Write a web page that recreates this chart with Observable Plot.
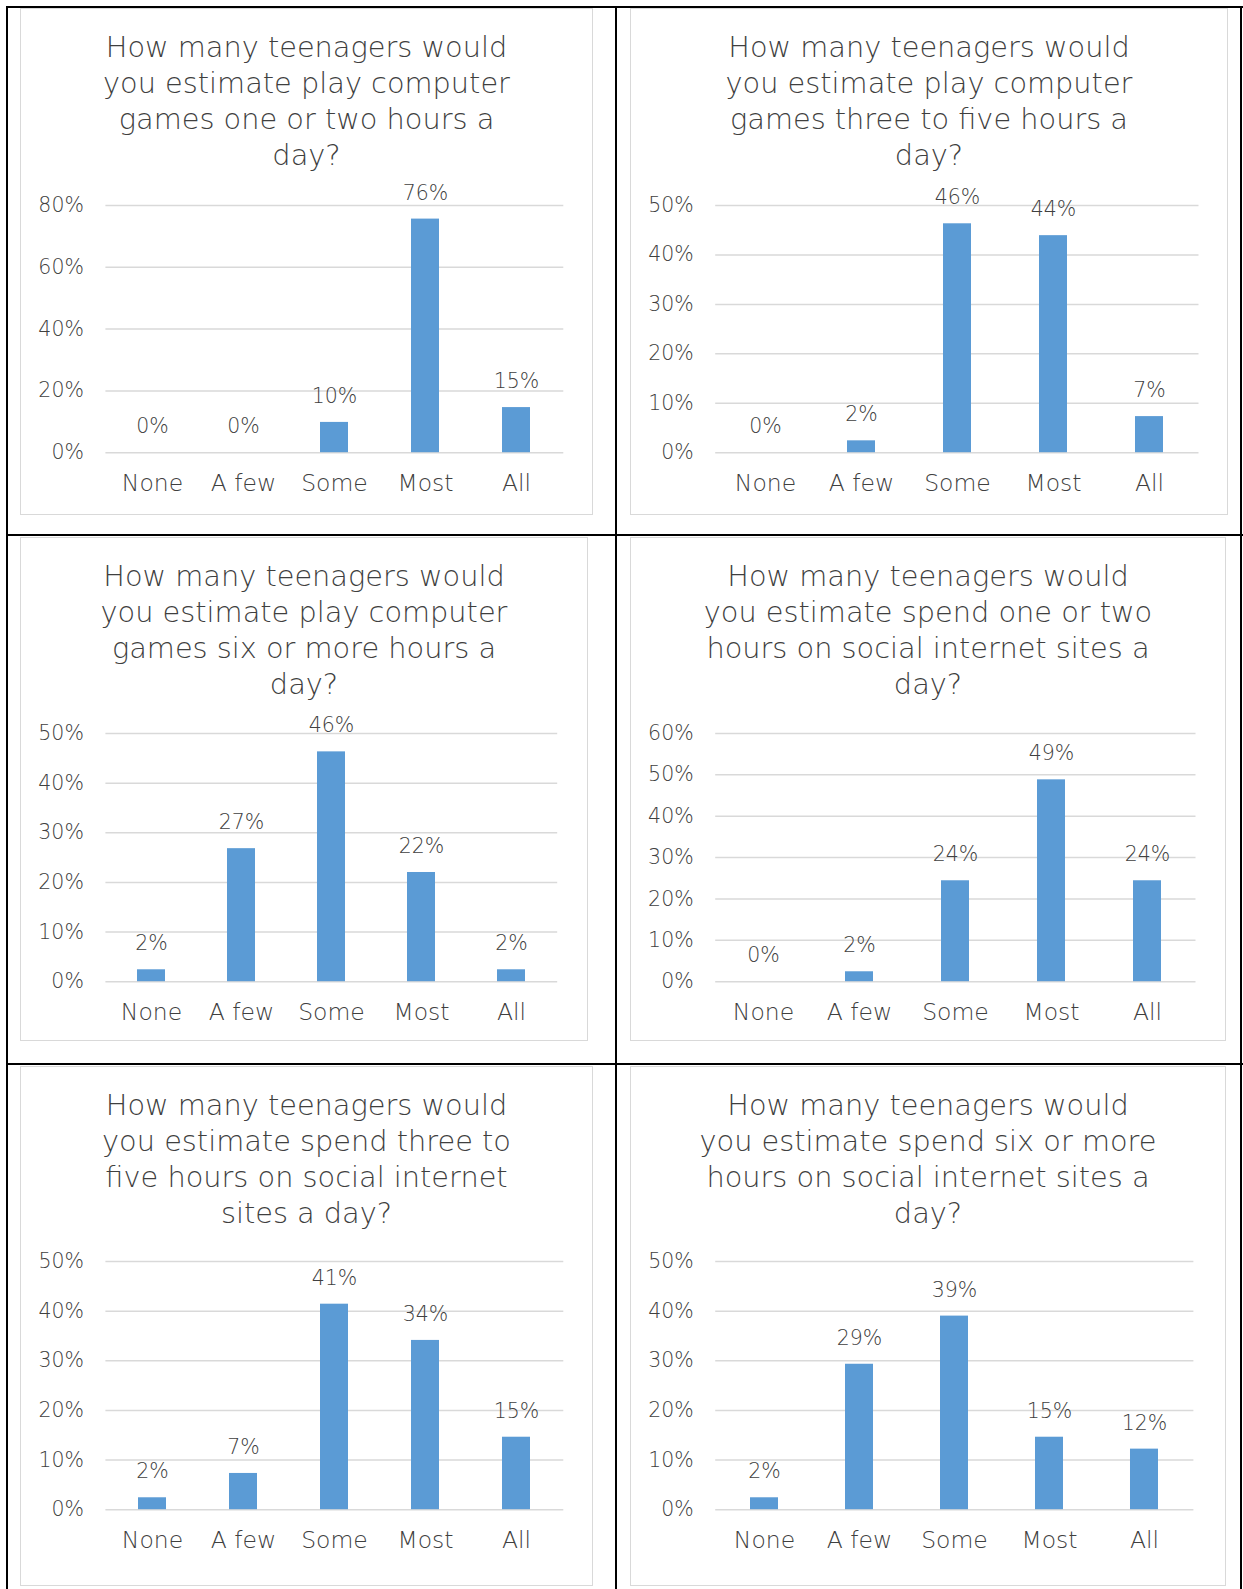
<!DOCTYPE html>
<html>
<head>
<meta charset="utf-8">
<script src="https://cdn.jsdelivr.net/npm/d3@7"></script>
<script src="https://cdn.jsdelivr.net/npm/@observablehq/plot@0.6"></script>
<style>
  html, body { margin: 0; padding: 0; background: #fff; }
  #page { position: relative; width: 1243px; height: 1589px; overflow: hidden; background: #fff; font-family: "DejaVu Sans", sans-serif; }
  .line { position: absolute; background: #000; }
  .box { position: absolute; box-sizing: border-box; border: 1.5px solid #d9d9d9; background: #fff; }
  .title { position: absolute; text-align: center; white-space: pre-line; color: #3f3f3f; font-size: 28.8px; line-height: 36px; font-family: "DejaVu Sans", sans-serif; font-weight: 200; }
  .chart { position: absolute; }
  .chart text { font-weight: 200; }
</style>
</head>
<body>
<div id="page"></div>
<script>
// ---- data ----
const categories = ["None", "A few", "Some", "Most", "All"];

const title1 = "How many teenagers would\nyou estimate play computer\ngames one or two hours a\nday?";
const title2 = "How many teenagers would\nyou estimate play computer\ngames three to five hours a\nday?";
const title3 = "How many teenagers would\nyou estimate play computer\ngames six or more hours a\nday?";
const title4 = "How many teenagers would\nyou estimate spend one or two\nhours on social internet sites a\nday?";
const title5 = "How many teenagers would\nyou estimate spend three to\nfive hours on social internet\nsites a day?";
const title6 = "How many teenagers would\nyou estimate spend six or more\nhours on social internet sites a\nday?";

const values1 = [0, 0, 9.8, 75.6, 14.6];
const values2 = [0, 2.4, 46.3, 43.9, 7.3];
const values3 = [2.4, 26.8, 46.3, 22.0, 2.4];
const values4 = [0, 2.4, 24.4, 48.8, 24.4];
const values5 = [2.4, 7.3, 41.4, 34.1, 14.6];
const values6 = [2.4, 29.3, 39.0, 14.6, 12.2];

const yTicks1 = [0, 20, 40, 60, 80];
const yTicks2 = [0, 10, 20, 30, 40, 50];
const yTicks3 = [0, 10, 20, 30, 40, 50];
const yTicks4 = [0, 10, 20, 30, 40, 50, 60];
const yTicks5 = [0, 10, 20, 30, 40, 50];
const yTicks6 = [0, 10, 20, 30, 40, 50];

// ---- layout (page pixels) ----
const layout = [
  {box: [20, 8, 593, 515],    grid: [105.4, 563.3, 451.8, 204.6]},
  {box: [630, 8, 1228, 515],  grid: [715.2, 1198.5, 451.8, 204.6]},
  {box: [20, 537, 588, 1041], grid: [105.4, 557.2, 980.7, 732.5]},
  {box: [630, 537, 1226, 1041], grid: [715.2, 1195.5, 980.7, 732.5]},
  {box: [20, 1066, 593, 1586], grid: [105.4, 563.3, 1509.5, 1261.3]},
  {box: [630, 1066, 1226, 1586], grid: [715.2, 1193.4, 1509.5, 1261.3]}
];

const charts = [
  {title: title1, values: values1, ticks: yTicks1},
  {title: title2, values: values2, ticks: yTicks2},
  {title: title3, values: values3, ticks: yTicks3},
  {title: title4, values: values4, ticks: yTicks4},
  {title: title5, values: values5, ticks: yTicks5},
  {title: title6, values: values6, ticks: yTicks6}
];

const page = document.getElementById("page");

function addLine(x, y, w, h) {
  const d = document.createElement("div");
  d.className = "line";
  Object.assign(d.style, {left: x + "px", top: y + "px", width: w + "px", height: h + "px"});
  page.appendChild(d);
}

const barWidth = 28.5;
const textColor = "#404040";

charts.forEach((c, i) => {
  const [bl, bt, br, bb] = layout[i].box;
  const [gx1, gx2, gy0, gyTop] = layout[i].grid;

  const box = document.createElement("div");
  box.className = "box";
  Object.assign(box.style, {left: bl + "px", top: bt + "px", width: (br - bl) + "px", height: (bb - bt) + "px"});
  page.appendChild(box);

  const t = document.createElement("div");
  t.className = "title";
  t.textContent = c.title;
  Object.assign(t.style, {left: bl + "px", top: (bt + 20.5) + "px", width: (br - bl) + "px"});
  page.appendChild(t);

  const data = categories.map((cat, k) => ({cat, value: c.values[k]}));
  const svgTop = gyTop - 50;
  const width = br - bl;
  const height = bb - 4 - svgTop;
  const marginTop = 50;
  const marginBottom = svgTop + height - gy0;
  const marginLeft = gx1 - bl;
  const marginRight = br - gx2;
  const step = (gx2 - gx1) / categories.length;
  const pi = 1 - barWidth / step;
  const yMax = c.ticks[c.ticks.length - 1];

  const chart = Plot.plot({
    width, height, marginTop, marginBottom, marginLeft, marginRight,
    style: {fontFamily: "DejaVu Sans, sans-serif", color: textColor, background: "transparent", overflow: "visible"},
    x: {domain: categories, paddingInner: pi, paddingOuter: pi / 2, axis: null},
    y: {domain: [0, yMax], axis: null},
    marks: [
      Plot.ruleY(c.ticks, {stroke: "#d9d9d9", strokeWidth: 1.5}),
      Plot.barY(data, {x: "cat", y: "value", fill: "#5b9bd5"}),
      Plot.text(data, {x: "cat", y: "value", text: d => Math.round(d.value) + "%", dy: -26, fontSize: 20.5, fill: textColor}),
      Plot.axisY({ticks: c.ticks, tickSize: 0, tickPadding: 22, tickFormat: d => d + "%", fontSize: 20.5, label: null}),
      Plot.axisX({tickSize: 0, tickPadding: 22, fontSize: 23.5, label: null})
    ]
  });
  chart.classList.add("chart");
  chart.style.left = bl + "px";
  chart.style.top = svgTop + "px";
  chart.style.position = "absolute";
  page.appendChild(chart);
});

addLine(6, 6, 1237, 2);      // top
addLine(6, 6, 2, 1583);      // left
addLine(615, 6, 2, 1583);    // middle
addLine(1240, 6, 2, 1583);   // right
addLine(6, 534, 1237, 2);    // row 1
addLine(6, 1063, 1237, 2);   // row 2
</script>
</body>
</html>
